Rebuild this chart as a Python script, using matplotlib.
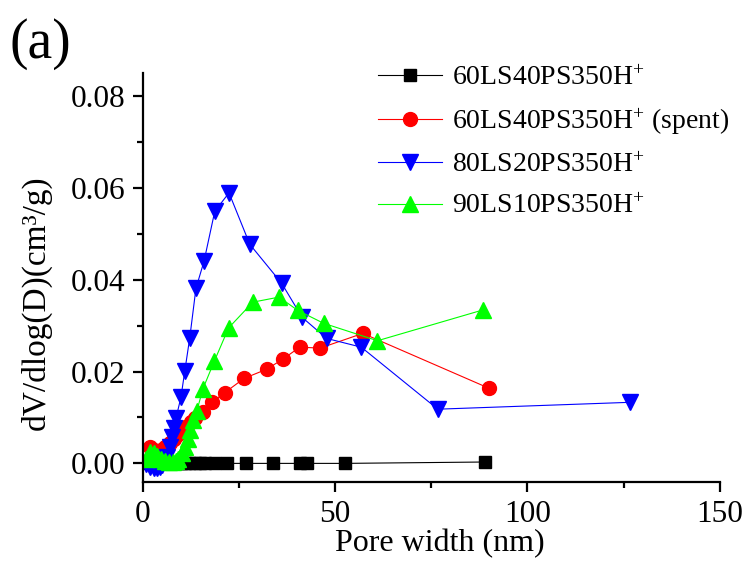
import matplotlib
matplotlib.use('Agg')
import matplotlib.pyplot as plt
import numpy as np

plt.rcParams['font.family'] = ['Liberation Serif', 'DejaVu Serif']
plt.rcParams['mathtext.fontset'] = 'custom'
plt.rcParams['mathtext.rm'] = 'Liberation Serif'
plt.rcParams['mathtext.it'] = 'Liberation Serif:italic'

# pore width (nm) and dV/dlog(D) (cm3/g) per sample
x_black = [1.8, 2.8, 3.8, 4.8, 5.8, 6.8, 7.8, 8.8, 9.8, 10.9, 12.0, 13.5, 14.8,
           16.1, 18.7, 21.8, 26.8, 33.8, 40.8, 42.6, 52.5, 88.9]
y_black = [0.0001, 0.0000, 0.0000, 0.0000, 0.0000, 0.0000, 0.0000, 0.0000, 0.0000,
           0.0000, 0.0000, 0.0000, 0.0000, 0.0000, 0.0000, 0.0000, 0.0000, 0.0000,
           0.0000, 0.0000, 0.0000, 0.0003]

x_red = [1.8, 2.8, 3.8, 4.8, 5.8, 7.0, 8.0, 9.0, 10.0, 11.0, 12.5, 13.5, 15.6,
         17.9, 21.3, 26.3, 32.2, 36.4, 40.8, 46.1, 57.2, 89.9]
y_red = [0.0035, 0.0030, 0.0024, 0.0030, 0.0035, 0.0045, 0.0054, 0.0062, 0.0070,
         0.0080, 0.0090, 0.0098, 0.0111, 0.0133, 0.0154, 0.0185, 0.0205, 0.0227,
         0.0253, 0.0251, 0.0283, 0.0164]

x_blue = [0.8, 1.8, 2.8, 3.6, 4.4, 5.0, 5.6, 6.2, 7.0, 7.5, 8.0, 8.6, 9.9, 10.9,
          12.2, 13.8, 15.9, 18.7, 22.4, 27.8, 36.1, 41.4, 47.8, 56.8, 76.7, 126.8]
y_blue = [-0.0002, -0.0008, -0.0010, -0.0009, -0.0008, -0.0004, 0.0003, 0.0013,
          0.0035, 0.0057, 0.0076, 0.0098, 0.0144, 0.0201, 0.0274, 0.0381, 0.0440,
          0.0549, 0.0589, 0.0477, 0.0392, 0.0318, 0.0272, 0.0253, 0.0118, 0.0133]

x_green = [0.8, 1.8, 2.8, 3.8, 4.8, 5.8, 6.8, 7.8, 8.5, 9.1, 10.1, 10.9, 11.7,
           12.2, 13.0, 14.0, 15.6, 18.6, 22.3, 28.6, 35.4, 40.3, 47.0, 61.0, 88.4]
y_green = [0.0010, 0.0024, 0.0022, 0.0015, 0.0010, 0.0005, 0.0002, 0.0002, 0.0006,
           0.0010, 0.0022, 0.0035, 0.0054, 0.0072, 0.0094, 0.0113, 0.0162, 0.0223,
           0.0295, 0.0351, 0.0362, 0.0333, 0.0305, 0.0267, 0.0334]

labels = [r'60LS40PS350H$^{+}$', r'60LS40PS350H$^{+}$ (spent)',
          r'80LS20PS350H$^{+}$', r'90LS10PS350H$^{+}$']

fig = plt.figure(figsize=(7.52, 5.70), dpi=100)
ax = fig.add_axes([0.190, 0.154, 0.767, 0.718])

ax.plot(x_black, y_black, '-s', color='black', lw=0.8, ms=8.5, label=labels[0])
ax.plot(x_red, y_red, '-o', color='#ff0000', lw=0.8, ms=10, label=labels[1])
ax.plot(x_blue, y_blue, '-v', color='#0000ff', lw=0.8, ms=11, label=labels[2])
ax.plot(x_green, y_green, '-^', color='#00ff00', lw=0.8, ms=11, label=labels[3])

ax.set_xlim(0, 150)
ax.set_ylim(-0.0041, 0.085)
ax.set_xticks([0, 50, 100, 150])
ax.set_xticks([25, 75, 125], minor=True)
ax.set_yticks([0.00, 0.02, 0.04, 0.06, 0.08])
ax.set_yticks([0.01, 0.03, 0.05, 0.07], minor=True)
ax.yaxis.set_major_formatter(plt.FuncFormatter(lambda v, p: '%.2f' % v))

for s in ['top', 'right']:
    ax.spines[s].set_visible(False)
for s in ['left', 'bottom']:
    ax.spines[s].set_linewidth(1.6)
ax.tick_params(which='major', direction='out', length=7.5, width=1.6,
               labelsize=22.5, pad=5)
ax.tick_params(which='minor', direction='out', length=4.5, width=1.6)

ax.set_xlabel('Pore width (nm)', fontsize=23)
ax.xaxis.set_label_coords(0.515, -0.115)
ax.set_ylabel('dV/dlog(D)(cm\u00b3/g)', fontsize=24)
ax.yaxis.set_label_coords(-0.158, 0.438)

ax.legend(loc='upper left', bbox_to_anchor=(0.364, 1.08), frameon=False,
          fontsize=20, handlelength=2.3, handletextpad=0.36, labelspacing=0.57)

fig.text(0.013, 0.899, '(a)', fontsize=40)

fig.savefig('out.png', dpi=100)
